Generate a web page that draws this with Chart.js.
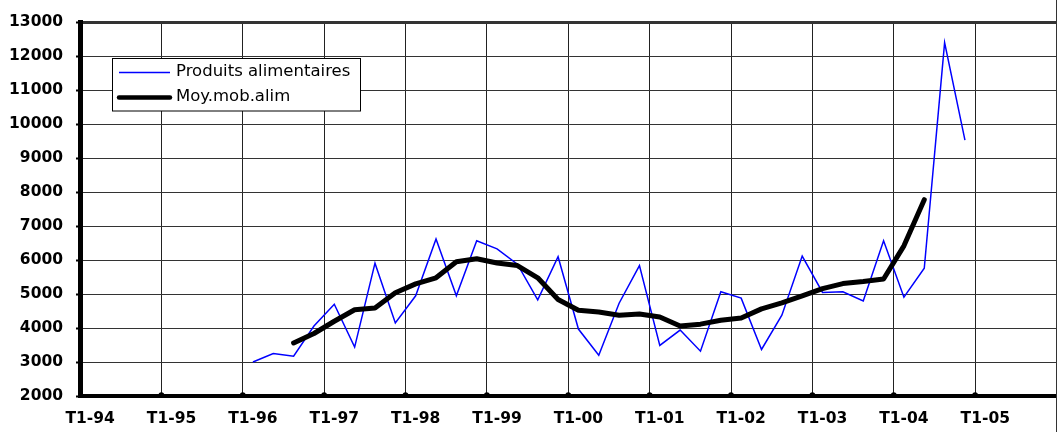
<!DOCTYPE html>
<html><head><meta charset="utf-8">
<script src="https://cdn.jsdelivr.net/npm/chart.js@4.4.1/dist/chart.umd.min.js"></script>
<style>html,body{margin:0;padding:0;background:#fff;}canvas{display:block;}</style>
</head><body>
<canvas id="c" width="1058" height="432"></canvas>
<script>
const quarters = [
  'T1-94','T2-94','T3-94','T4-94','T1-95','T2-95','T3-95','T4-95',
  'T1-96','T2-96','T3-96','T4-96','T1-97','T2-97','T3-97','T4-97',
  'T1-98','T2-98','T3-98','T4-98','T1-99','T2-99','T3-99','T4-99',
  'T1-00','T2-00','T3-00','T4-00','T1-01','T2-01','T3-01','T4-01',
  'T1-02','T2-02','T3-02','T4-02','T1-03','T2-03','T3-03','T4-03',
  'T1-04','T2-04','T3-04','T4-04','T1-05','T2-05','T3-05','T4-05'
];
const xTickLabels = ['T1-94','T1-95','T1-96','T1-97','T1-98','T1-99','T1-00','T1-01','T1-02','T1-03','T1-04','T1-05'];
const produitsAlimentaires = [
  null, null, null, null, null, null, null, null,
  3000, 3250, 3170, 4060, 4700, 3440, 5910, 4150,
  4950, 6620, 4950, 6570, 6330, 5880, 4830, 6100,
  3970, 3200, 4730, 5840, 3490, 3940, 3320, 5070,
  4880, 3370, 4380, 6120, 5050, 5070, 4800, 6570,
  4910, 5760, 12400, 9530, null, null, null, null
];
const moyMobAlim = [
  null, null, null, null, null, null, null, null,
  null, null, 3560, 3840, 4200, 4540, 4590, 5040,
  5300, 5480, 5950, 6040, 5915, 5840, 5480, 4840,
  4525, 4470, 4378, 4412, 4328, 4058, 4115, 4228,
  4298, 4565, 4740, 4945, 5160, 5310, 5370, 5445,
  6420, 7778, null, null, null, null, null, null
];
const seriesNames = ['Produits alimentaires', 'Moy.mob.alim'];
const yMin = 2000, yMax = 13000, yStep = 1000;

const FONT = 'DejaVu Sans';

const legendPlugin = {
  id: 'boxLegend',
  afterDraw(chart) {
    const ctx = chart.ctx;
    ctx.save();
    const bx = 112.5, by = 58.5, bw = 248, bh = 52.5;
    ctx.fillStyle = '#fff';
    ctx.fillRect(bx, by, bw, bh);
    ctx.strokeStyle = '#000';
    ctx.lineWidth = 1;
    ctx.strokeRect(bx, by, bw, bh);
    const rows = [72.5, 97.5];
    chart.data.datasets.forEach((ds, i) => {
      ctx.beginPath();
      ctx.strokeStyle = ds.borderColor;
      ctx.lineWidth = i === 0 ? 1.5 : 4.5;
      ctx.lineCap = i === 0 ? 'butt' : 'round';
      ctx.moveTo(119, rows[i]);
      ctx.lineTo(170, rows[i]);
      ctx.stroke();
      ctx.fillStyle = '#000';
      ctx.font = '16.5px "' + FONT + '"';
      ctx.textBaseline = 'middle';
      ctx.textAlign = 'left';
      ctx.fillText(ds.label, 176, rows[i] - 1);
    });
    ctx.restore();
  }
};

const frameDecor = {
  id: 'frameDecor',
  afterDraw(chart) {
    const ctx = chart.ctx;
    const a = chart.chartArea;
    ctx.save();
    ctx.fillStyle = '#000';
    const step = (a.right - a.left) / quarters.length;
    for (let i = 4; i < quarters.length; i += 4) {
      const x = a.left + i * step;
      ctx.beginPath();
      ctx.arc(x, a.bottom - 1, 2.8, 0, Math.PI * 2);
      ctx.fill();
    }
    ctx.strokeStyle = '#333';
    ctx.lineWidth = 1;
    ctx.beginPath();
    ctx.moveTo(1056.5, 0);
    ctx.lineTo(1056.5, 432);
    ctx.stroke();
    ctx.restore();
  }
};

new Chart(document.getElementById('c'), {
  type: 'line',
  data: {
    labels: quarters,
    datasets: [
      {
        label: seriesNames[0],
        data: produitsAlimentaires,
        borderColor: '#0000ff',
        borderWidth: 1.5,
        pointRadius: 0,
        tension: 0,
        fill: false,
        order: 1
      },
      {
        label: seriesNames[1],
        data: moyMobAlim,
        borderColor: '#000000',
        borderWidth: 5,
        borderJoinStyle: 'round',
        borderCapStyle: 'round',
        pointRadius: 0,
        tension: 0,
        fill: false,
        order: 0
      }
    ]
  },
  options: {
    responsive: false,
    animation: false,
    events: [],
    layout: { padding: { top: 14, right: 1.5, left: 0, bottom: 0 } },
    plugins: { legend: { display: false }, tooltip: { enabled: false }, title: { display: false } },
    scales: {
      x: {
        type: 'category',
        offset: true,
        afterFit(scale) { scale.height = 36; scale.paddingLeft = 0; scale.paddingRight = 0; },
        grid: {
          offset: true,
          drawTicks: false,
          lineWidth: 1,
          color(ctx) {
            if (ctx.index === undefined) return '#333';
            return ctx.index % 4 === 0 ? '#222' : 'rgba(0,0,0,0)';
          }
        },
        border: { display: true, color: '#000', width: 4 },
        ticks: {
          autoSkip: false,
          maxRotation: 0,
          minRotation: 0,
          padding: 14,
          color: '#000',
          font: { family: FONT, size: 15.5, weight: 'bold' },
          callback(value, index) {
            const lab = quarters[index];
            return xTickLabels.includes(lab) ? lab : '';
          }
        }
      },
      y: {
        min: yMin,
        max: yMax,
        afterFit(scale) { scale.width = 80; },
        grid: {
          color: '#333',
          lineWidth(ctx) { return ctx.tick && ctx.tick.value === yMax ? 3 : 1; },
          drawTicks: true,
          tickLength: 4,
          tickColor: '#000',
          tickWidth: 2
        },
        border: { display: true, color: '#000', width: 5 },
        ticks: {
          stepSize: yStep,
          padding: 13,
          color: '#000',
          font: { family: FONT, size: 15.5, weight: 'bold' },
          callback(value) { return String(value); }
        }
      }
    }
  },
  plugins: [legendPlugin, frameDecor]
});
</script>
</body></html>
